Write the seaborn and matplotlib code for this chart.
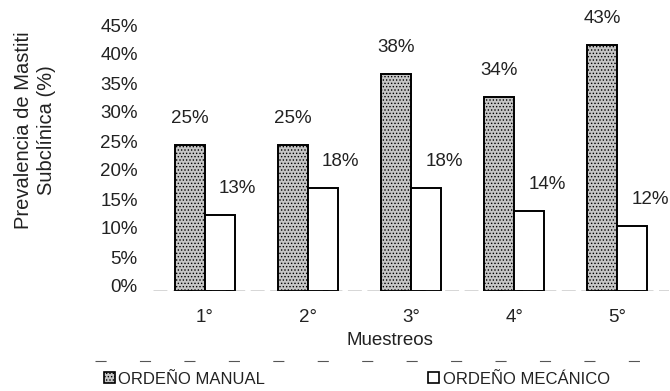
import pandas as pd
import numpy as np
import matplotlib
matplotlib.use('Agg')
import matplotlib.pyplot as plt
import matplotlib.transforms as mtransforms
from matplotlib.patches import Patch
from matplotlib.lines import Line2D
import seaborn as sns

# Data
muestreos = ['1°', '2°', '3°', '4°', '5°']
manual = [25.2, 25.2, 37.4, 33.4, 42.4]
mecanico = [13.1, 17.8, 17.8, 13.8, 11.2]
manual_labels = ['25%', '25%', '38%', '34%', '43%']
mecanico_labels = ['13%', '18%', '18%', '14%', '12%']
series_names = ['ORDEÑO MANUAL', 'ORDEÑO MECÁNICO']
yticks = [0, 5, 10, 15, 20, 25, 30, 35, 40, 45]

df = pd.DataFrame({
    'Muestreo': muestreos * 2,
    'Valor': manual + mecanico,
    'Serie': [series_names[0]] * 5 + [series_names[1]] * 5,
})

sns.set_style('white')
plt.rcParams['font.family'] = ['Liberation Sans', 'DejaVu Sans']
plt.rcParams['hatch.color'] = '#4a4a4a'
plt.rcParams['hatch.linewidth'] = 0.6

fig = plt.figure(figsize=(6.7, 3.91), dpi=100)
ax = fig.add_axes([153 / 670, 1 - 291 / 391, 516 / 670, 261 / 391])

sns.barplot(data=df, x='Muestreo', y='Valor', hue='Serie', order=muestreos,
            hue_order=series_names, width=0.58, ax=ax, legend=False,
            palette=['#c6c6c6', 'white'], saturation=1)

# style bars: stippled gray vs white, black outline
for i, p in enumerate(ax.patches[:10]):
    p.set_edgecolor('black')
    p.set_linewidth(1.4)
    if i < 5:
        p.set_hatch('.....')

fs = 13.5
ax.set_ylim(0, 45)
ax.set_yticks(yticks)
ax.set_yticklabels([f'{t}%' for t in yticks], fontsize=fs, color='#222222')
ax.tick_params(axis='y', length=0, pad=11)
ax.tick_params(axis='x', length=0, pad=13, labelsize=fs, labelcolor='#222222')
for lbl in ax.get_yticklabels():
    lbl.set_transform(lbl.get_transform() + mtransforms.ScaledTranslation(0, 0.05, fig.dpi_scale_trans))

for s in ax.spines.values():
    s.set_visible(False)
ax.axhline(0, color='#333333', lw=1, dashes=(10, 4))

# value labels
for k in range(5):
    ax.annotate(manual_labels[k], (k - 0.145, manual[k]), xytext=(0, 19),
                textcoords='offset points', ha='center', va='center', fontsize=fs, color='#222222')
    ax.annotate(mecanico_labels[k], (k + 0.145, mecanico[k]), xytext=(13, 19),
                textcoords='offset points', ha='center', va='center', fontsize=fs, color='#222222')

ax.set_xlabel('Muestreos', fontsize=fs, color='#222222')
ax.xaxis.set_label_coords((390 - 153) / 516, -41 / 261)
ax.set_ylabel('')

fig.text(35 / 670, 1 - 130 / 391, 'Prevalencia de Mastiti\nSubclínica (%)', rotation=90,
         ha='center', va='center', fontsize=14.5, color='#222222', linespacing=1.25)

# broken legend frame line from the scan
fig.add_artist(Line2D([95 / 670, 668 / 670], [1 - 361 / 391] * 2, color='#555555',
                      lw=0.8, dashes=(10, 30)))

handles = [Patch(facecolor='#c6c6c6', edgecolor='black', hatch='.....', lw=1.2),
           Patch(facecolor='white', edgecolor='black', lw=1.2)]
fig.legend(handles, series_names, loc='center left', bbox_to_anchor=(104 / 670, 1 - 379 / 391),
           ncol=2, frameon=False, fontsize=12, handlelength=0.65, handleheight=0.65,
           handletextpad=0.2, columnspacing=9.8, borderaxespad=0, borderpad=0,
           labelcolor='#222222')

fig.savefig('out.png', dpi=100)
